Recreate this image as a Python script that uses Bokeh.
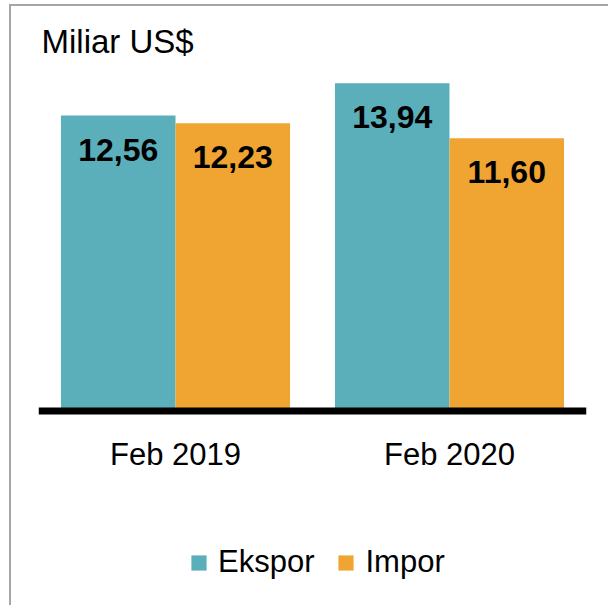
from bokeh.plotting import figure
from bokeh.models import FactorRange, Range1d, ColumnDataSource, Span, Legend, LegendItem, Title
from bokeh.transform import dodge
from bokeh.core.properties import value
from bokeh.embed import file_html
from bokeh.resources import INLINE

categories = ["Feb 2019", "Feb 2020"]
ekspor = [12.56, 13.94]
impor = [12.23, 11.60]
series_names = ["Ekspor", "Impor"]
unit_label = "Miliar US$"

FONT = "Liberation Sans"
TEAL = "#5AAFBA"
ORANGE = "#F0A432"

src = ColumnDataSource(dict(
    cat=categories,
    ekspor=ekspor,
    impor=impor,
    ekspor_lbl=[f"{v:.2f}".replace(".", ",") for v in ekspor],
    impor_lbl=[f"{v:.2f}".replace(".", ",") for v in impor],
))

p = figure(
    x_range=FactorRange(factors=categories),
    y_range=Range1d(-8.27, 14.69),
    width=608, height=605,
    min_border_left=38, min_border_right=22,
    min_border_top=65, min_border_bottom=0,
    output_backend="svg", toolbar_location=None,
    y_axis_location=None,
)
p.title = Title(text=unit_label, align="left", offset=3, standoff=12,
                text_font=FONT, text_font_size="33px", text_font_style="normal",
                text_color="black")
p.background_fill_color = "white"
p.border_fill_alpha = 0
p.styles = {
    "background": "linear-gradient(#a6a6a6,#a6a6a6) 9px 4px / 2px 601px no-repeat, "
                  "linear-gradient(#a6a6a6,#a6a6a6) 9px 4px / 599px 2px no-repeat, white",
}
p.outline_line_color = None
p.xgrid.visible = False
p.ygrid.visible = False

w = 0.418
r1 = p.vbar(x=dodge("cat", -0.209, range=p.x_range), top="ekspor", width=w, bottom=0,
            source=src, fill_color=TEAL, line_color=None)
r2 = p.vbar(x=dodge("cat", 0.209, range=p.x_range), top="impor", width=w, bottom=0,
            source=src, fill_color=ORANGE, line_color=None)

p.text(x=dodge("cat", -0.209, range=p.x_range), y="ekspor", text="ekspor_lbl", source=src,
       text_font=value(FONT), text_font_size="32px", text_font_style="bold",
       text_align="center", text_baseline="middle", y_offset=34, text_color="black")
p.text(x=dodge("cat", 0.209, range=p.x_range), y="impor", text="impor_lbl", source=src,
       text_font=value(FONT), text_font_size="32px", text_font_style="bold",
       text_align="center", text_baseline="middle", y_offset=34, text_color="black")

p.add_layout(Span(location=0, dimension="width", line_color="black", line_width=7))

ax = p.xaxis[0]
ax.fixed_location = 0
ax.axis_line_color = None
ax.major_tick_line_color = None
ax.major_tick_out = 0
ax.minor_tick_line_color = None
ax.major_label_text_font = FONT
ax.major_label_text_font_size = "31px"
ax.major_label_text_color = "black"
ax.major_label_standoff = 26

legend = Legend(
    items=[LegendItem(label=series_names[0], renderers=[r1]),
           LegendItem(label=series_names[1], renderers=[r2])],
    orientation="horizontal", location=(151, 25),
    glyph_width=19, glyph_height=19, label_standoff=10, spacing=22,
    padding=0, margin=0, border_line_color=None, background_fill_alpha=0,
    label_text_font=FONT, label_text_font_size="31px", label_text_color="black",
)
p.add_layout(legend, "center")

open("out.html", "w").write(file_html(p, INLINE))
